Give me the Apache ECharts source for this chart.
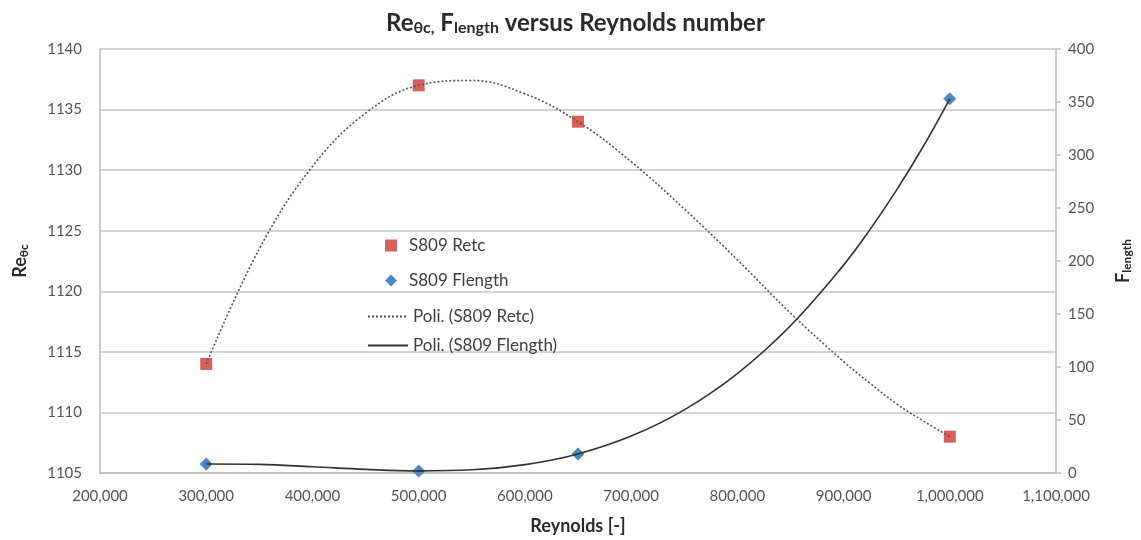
<!DOCTYPE html>
<html>
<head>
<meta charset="utf-8">
<script src="https://cdn.jsdelivr.net/npm/echarts@6/dist/echarts.min.js"></script>
<style>html,body{margin:0;padding:0;background:#fff}#c{width:1141px;height:540px}</style>
</head>
<body>
<div id="c"></div>
<script>
// Measured points
const reynolds = [300000, 500000, 650000, 1000000];
const retc = [1114, 1137, 1134, 1108];
const flength = [8.5, 2, 18, 353];
// Trend-line curves
const curveX = [300000, 350000, 400000, 450000, 500000, 550000, 600000, 650000, 700000, 750000, 800000, 850000, 900000, 925000, 950000, 975000, 1000000];
const retcCurve = [1114, 1123.5, 1130.3, 1134.7, 1137, 1137.4, 1136.3, 1134, 1130.7, 1126.8, 1122.6, 1118.2, 1114.2, 1112.4, 1110.7, 1109.3, 1108];
const flengthCurve = [8.5, 8.1, 5.9, 3.4, 2, 3, 7.9, 18, 34.8, 59.6, 93.8, 138.9, 196.1, 229.8, 267.1, 308, 353];

const zip = (xs, ys) => xs.map((x, i) => [x, ys[i]]);
const FONT = 'Lato';
const labelColor = '#555555';
const titleColor = '#2b2b2b';

const chart = echarts.init(document.getElementById('c'), null, {renderer: 'canvas'});
chart.setOption({
  animation: false,
  backgroundColor: '#fff',
  textStyle: {fontFamily: FONT},
  title: {
    text: '{b|Re}{s|θc,}{b| F}{s|length}{b| versus Reynolds number}',
    left: 381,
    top: 5,
    textStyle: {
      rich: {
        b: {fontFamily: FONT, fontSize: 24, fontWeight: 'bold', color: titleColor},
        s: {fontFamily: FONT, fontSize: 16, fontWeight: 'bold', color: titleColor, padding: [10, 0, 0, 0]}
      }
    }
  },
  grid: {left: 100, right: 84, top: 49, bottom: 66},
  legend: [{
    orient: 'vertical',
    left: 380,
    top: 232,
    itemWidth: 12,
    itemHeight: 12,
    itemGap: 18,
    textStyle: {fontFamily: FONT, fontSize: 17, color: '#404040', padding: [0, 0, 0, 7]},
    data: ['S809 Retc', 'S809 Flength']
  }, {
    orient: 'vertical',
    left: 362,
    top: 303,
    itemWidth: 40,
    itemHeight: 12,
    itemGap: 12,
    textStyle: {fontFamily: FONT, fontSize: 17, color: '#404040'},
    data: [
      {name: 'Poli. (S809 Retc)', itemStyle: {opacity: 0}},
      {name: 'Poli. (S809 Flength)', itemStyle: {opacity: 0}}
    ]
  }],
  xAxis: {
    type: 'value',
    min: 200000, max: 1100000, interval: 100000,
    name: 'Reynolds [-]',
    nameLocation: 'middle',
    nameGap: 44,
    nameTextStyle: {fontFamily: FONT, fontSize: 18, fontWeight: 'bold', color: titleColor},
    axisLine: {lineStyle: {color: '#bdbdbd', width: 1.5}},
    axisTick: {show: false},
    splitLine: {show: false},
    axisLabel: {fontFamily: FONT, fontSize: 15, color: labelColor, margin: 16,
      formatter: v => v.toLocaleString('en-US')}
  },
  yAxis: [{
    type: 'value',
    min: 1105, max: 1140, interval: 5,
    position: 'left',
    name: '{b|Re}{s|θc}',
    nameLocation: 'middle',
    nameRotate: 90,
    nameGap: 70,
    nameTextStyle: {rich: {
      b: {fontFamily: FONT, fontSize: 18, fontWeight: 'bold', color: titleColor},
      s: {fontFamily: FONT, fontSize: 12, fontWeight: 'bold', color: titleColor, padding: [7, 0, 0, 0]}
    }},
    axisLine: {show: true, lineStyle: {color: '#bdbdbd', width: 1.5}},
    axisTick: {show: false},
    splitLine: {lineStyle: {color: '#c6c6c6', width: 1.5}},
    axisLabel: {fontFamily: FONT, fontSize: 15, color: labelColor, margin: 18,
      formatter: v => String(v)}
  }, {
    type: 'value',
    min: 0, max: 400, interval: 50,
    position: 'right',
    name: '{b|F}{s|length}',
    nameLocation: 'middle',
    nameRotate: 90,
    nameGap: 58,
    nameTextStyle: {rich: {
      b: {fontFamily: FONT, fontSize: 18, fontWeight: 'bold', color: titleColor},
      s: {fontFamily: FONT, fontSize: 12, fontWeight: 'bold', color: titleColor, padding: [7, 0, 0, 0]}
    }},
    axisLine: {show: true, lineStyle: {color: '#bdbdbd', width: 1.5}},
    axisTick: {show: true, inside: false, length: 5, lineStyle: {color: '#bdbdbd', width: 1.5}},
    splitLine: {show: false},
    axisLabel: {fontFamily: FONT, fontSize: 15, color: labelColor, margin: 12}
  }],
  series: [{
    name: 'S809 Retc',
    type: 'scatter',
    yAxisIndex: 0,
    symbol: 'rect',
    symbolSize: 12,
    itemStyle: {color: '#d9605a', opacity: 1},
    data: zip(reynolds, retc),
    z: 2
  }, {
    name: 'S809 Flength',
    type: 'scatter',
    yAxisIndex: 1,
    symbol: 'diamond',
    symbolSize: 13,
    itemStyle: {color: '#4a87c6', opacity: 1},
    data: zip(reynolds, flength),
    z: 2
  }, {
    name: 'Poli. (S809 Retc)',
    type: 'line',
    yAxisIndex: 0,
    showSymbol: false,
    symbol: 'none',
    smooth: 0.4,
    lineStyle: {color: '#555', width: 1.6, type: [2, 2]},
    itemStyle: {color: '#555'},
    data: zip(curveX, retcCurve),
    z: 3
  }, {
    name: 'Poli. (S809 Flength)',
    type: 'line',
    yAxisIndex: 1,
    showSymbol: false,
    symbol: 'none',
    smooth: 0.4,
    lineStyle: {color: '#333', width: 1.6},
    itemStyle: {color: '#333'},
    data: zip(curveX, flengthCurve),
    z: 3
  }]
});
</script>
</body>
</html>
